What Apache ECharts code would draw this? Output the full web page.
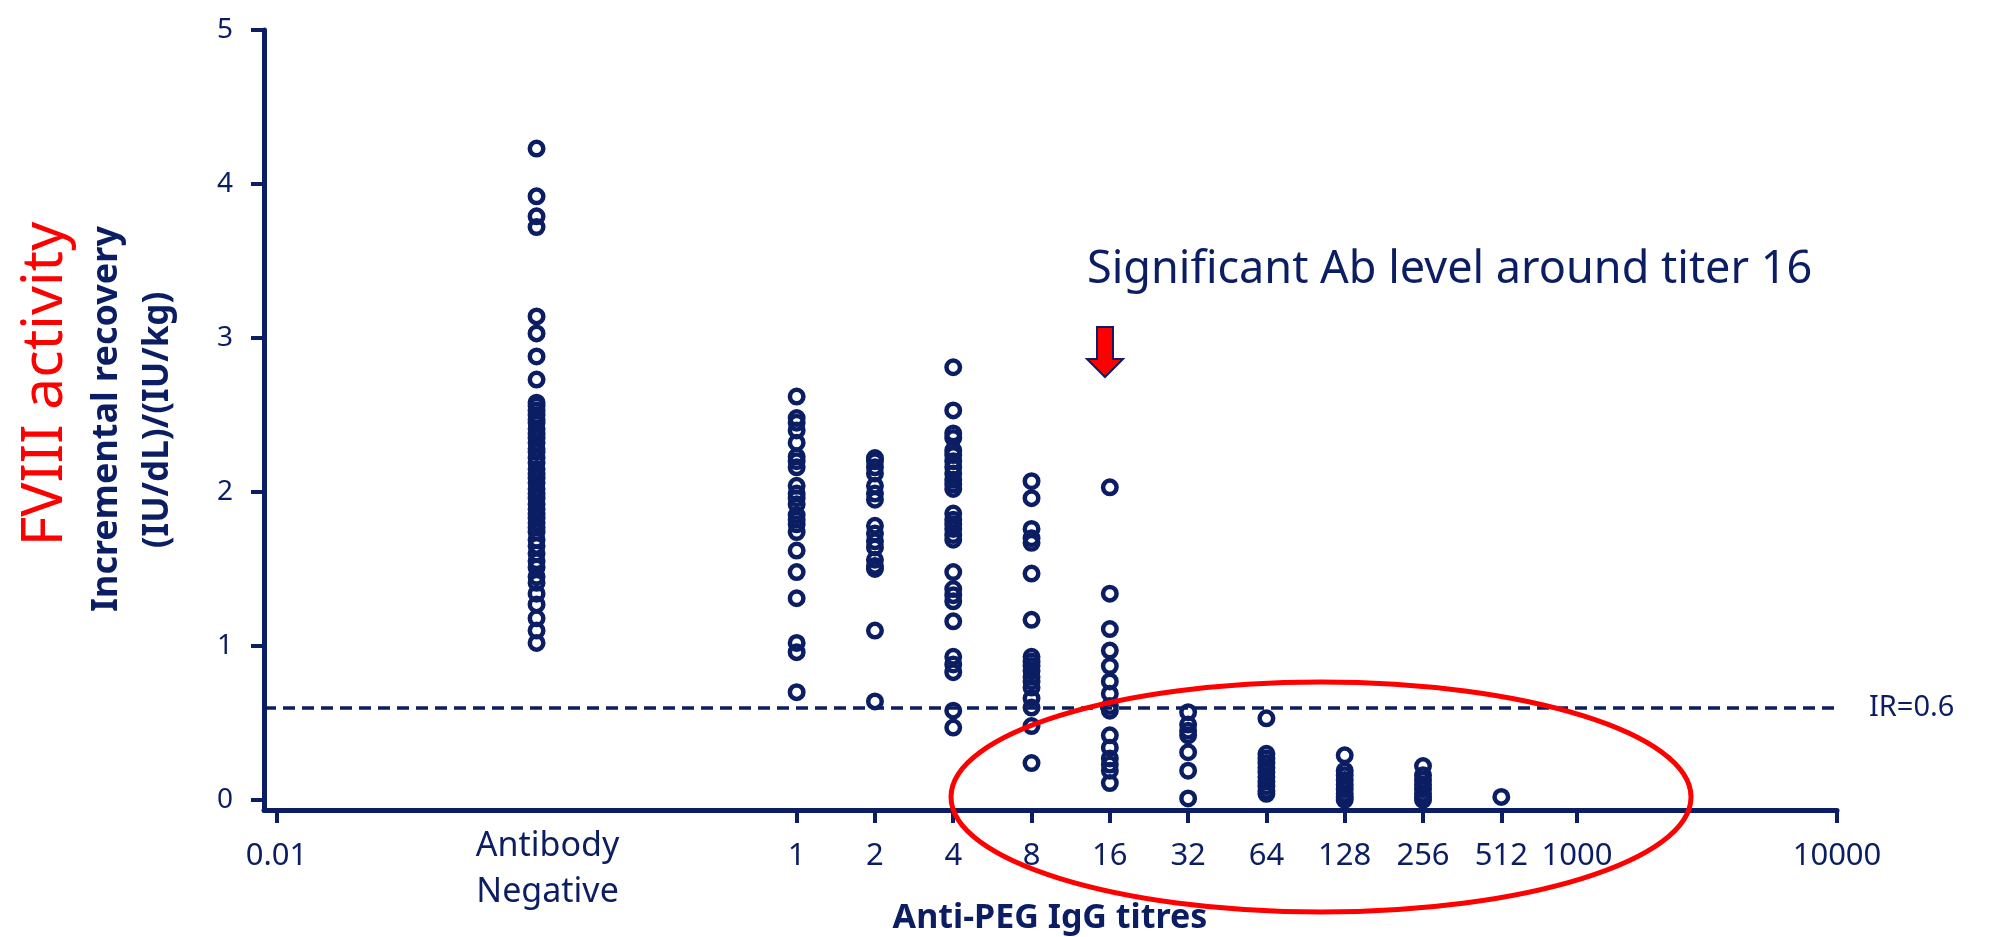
<!DOCTYPE html>
<html><head><meta charset="utf-8">
<script src="https://cdn.jsdelivr.net/npm/echarts@6/dist/echarts.min.js"></script>
<style>html,body{margin:0;padding:0;background:#fff}#c{width:1989px;height:937px}</style>
</head><body><div id="c"></div>
<script>
// ---------- data ----------
const titerCategories = ['Antibody Negative', '1', '2', '4', '8', '16', '32', '64', '128', '256', '512'];
const titerPositions  = [0.1, 1, 2, 4, 8, 16, 32, 64, 128, 256, 512];

const irAbNeg = [4.23, 3.92, 3.79, 3.72, 3.14, 3.03, 2.88, 2.73, 2.58, 2.56, 2.53, 2.50, 2.47, 2.45, 2.41,
                 2.38, 2.35, 2.32, 2.28, 2.26, 2.22, 2.19, 2.15, 2.12, 2.09, 2.06, 2.02, 1.99, 1.96, 1.92,
                 1.89, 1.86, 1.83, 1.80, 1.77, 1.74, 1.69, 1.65, 1.60, 1.55, 1.51, 1.45, 1.41, 1.34, 1.27,
                 1.18, 1.10, 1.02];
const ir1   = [2.62, 2.48, 2.45, 2.40, 2.32, 2.23, 2.20, 2.16, 2.04, 1.99, 1.96, 1.92, 1.85, 1.82, 1.79,
               1.74, 1.62, 1.48, 1.31, 1.02, 0.96, 0.70];
const ir2   = [2.22, 2.20, 2.16, 2.12, 2.04, 1.99, 1.95, 1.78, 1.73, 1.68, 1.64, 1.56, 1.52, 1.50, 1.10, 0.64];
const ir4   = [2.81, 2.53, 2.38, 2.35, 2.27, 2.24, 2.20, 2.16, 2.12, 2.08, 2.05, 2.02, 1.86, 1.82, 1.79,
               1.76, 1.72, 1.69, 1.48, 1.37, 1.33, 1.29, 1.16, 0.93, 0.88, 0.83, 0.58, 0.47];
const ir8   = [2.07, 1.96, 1.76, 1.70, 1.67, 1.47, 1.17, 0.93, 0.90, 0.87, 0.84, 0.80, 0.77, 0.73, 0.66,
               0.60, 0.48, 0.24];
const ir16  = [2.03, 1.34, 1.11, 0.97, 0.87, 0.77, 0.69, 0.61, 0.58, 0.42, 0.34, 0.27, 0.23, 0.19, 0.11];
const ir32  = [0.57, 0.49, 0.45, 0.42, 0.31, 0.19, 0.01];
const ir64  = [0.53, 0.30, 0.27, 0.24, 0.21, 0.18, 0.15, 0.12, 0.09, 0.06, 0.04];
const ir128 = [0.29, 0.19, 0.16, 0.13, 0.10, 0.07, 0.04, 0.02, 0.00];
const ir256 = [0.22, 0.16, 0.13, 0.10, 0.07, 0.04, 0.02, 0.00];
const ir512 = [0.02];
const irByTiter = [irAbNeg, ir1, ir2, ir4, ir8, ir16, ir32, ir64, ir128, ir256, ir512];

const xTickValues = [0.01, 0.1, 1, 2, 4, 8, 16, 32, 64, 128, 256, 512, 1000, 10000];
const xTickLabels = ['0.01', 'Antibody\nNegative', '1', '2', '4', '8', '16', '32', '64', '128', '256', '512', '1000', '10000'];
const yTickValues = [0, 1, 2, 3, 4, 5];
const irThreshold = 0.6;
const irThresholdLabel = 'IR=0.6';

// ---------- style ----------
const NAVY = '#0c1e63';
const RED = '#ff0000';
const FONT = '"Noto Sans", "Open Sans", sans-serif';
const xLogMin = -2.048, xLogMax = 4;

const points = [];
titerPositions.forEach((x, i) => irByTiter[i].forEach(v => points.push([x, v])));

const xTickLog = xTickValues.map(v => Math.log10(v));
const xMajorTickLog = xTickValues.filter(v => v !== 0.1).map(v => Math.log10(v));

const chart = echarts.init(document.getElementById('c'), null, {renderer: 'canvas'});
chart.setOption({
  animation: false,
  backgroundColor: '#fff',
  grid: {left: 264, right: 152, top: 30, bottom: 127, containLabel: false},
  xAxis: [
    { // data axis (log scale), hidden
      type: 'log', logBase: 10, position: 'top', show: false,
      min: Math.pow(10, xLogMin), max: Math.pow(10, xLogMax),
      splitLine: {show: false}
    },
    { // visible axis in decades of the same log scale
      type: 'value', position: 'bottom', min: xLogMin, max: xLogMax,
      splitLine: {show: false},
      axisLine: {show: true, onZero: false, lineStyle: {color: NAVY, width: 5}},
      axisTick: {show: true, customValues: xMajorTickLog, length: 13, lineStyle: {color: NAVY, width: 4}},
      axisLabel: {
        customValues: xTickLog, color: NAVY, fontSize: 31, fontFamily: FONT,
        lineHeight: 66, margin: 13,
        formatter: function (v) {
          const i = xTickLog.findIndex(t => Math.abs(t - v) < 1e-6);
          if (i < 0) return '';
          const s = xTickLabels[i];
          if (s.indexOf('\n') >= 0) return s.split('\n').map(p => '{neg|' + p + '}').join('\n');
          return s;
        },
        rich: {neg: {fontSize: 34, lineHeight: 46, color: NAVY, fontFamily: FONT, padding: [0, 0, 0, 22]}}
      }
    }
  ],
  yAxis: {
    type: 'value', min: -0.065, max: 5,
    splitLine: {show: false},
    axisLine: {show: true, onZero: false, lineStyle: {color: NAVY, width: 5}},
    axisTick: {show: true, customValues: yTickValues, length: 13, lineStyle: {color: NAVY, width: 4}},
    axisLabel: {customValues: yTickValues, color: NAVY, fontSize: 28, fontFamily: FONT, margin: 31,
                padding: [0, 0, 12, 0]}
  },
  series: [{
    type: 'scatter', xAxisIndex: 0, yAxisIndex: 0,
    symbol: 'circle', symbolSize: 13.5,
    itemStyle: {color: 'rgba(255,255,255,0)', borderColor: NAVY, borderWidth: 4.5, opacity: 1},
    data: points,
    markLine: {
      silent: true, symbol: ['none', 'none'],
      lineStyle: {color: NAVY, width: 3.5, type: [12, 7]},
      label: {show: true, position: 'end', formatter: irThresholdLabel, color: NAVY,
              fontSize: 29, fontFamily: FONT, distance: 32},
      data: [{yAxis: irThreshold}]
    },
    z: 5
  }],
  graphic: [
    {type: 'text', x: 46, y: 384, rotation: Math.PI / 2,
     style: {text: 'FVIII activity', fill: RED, fontSize: 57, fontFamily: FONT, align: 'center', verticalAlign: 'middle'}},
    {type: 'text', x: 107, y: 419, rotation: Math.PI / 2,
     style: {text: 'Incremental recovery', fill: NAVY, fontSize: 36, fontWeight: 'bold', fontFamily: FONT, align: 'center', verticalAlign: 'middle'}},
    {type: 'text', x: 158, y: 420, rotation: Math.PI / 2,
     style: {text: '(IU/dL)/(IU/kg)', fill: NAVY, fontSize: 35, fontWeight: 'bold', fontFamily: FONT, align: 'center', verticalAlign: 'middle'}},
    {type: 'text', x: 1050, y: 918,
     style: {text: 'Anti-PEG IgG titres', fill: NAVY, fontSize: 34, fontWeight: 'bold', fontFamily: FONT, align: 'center', verticalAlign: 'middle'}},
    {type: 'text', x: 1087, y: 270,
     style: {text: 'Significant Ab level around titer 16', fill: NAVY, fontSize: 45, fontFamily: FONT, align: 'left', verticalAlign: 'middle'}},
    {type: 'polygon', z: 100,
     shape: {points: [[1097, 327], [1113, 327], [1113, 359], [1123, 359], [1105, 377], [1087, 359], [1097, 359]]},
     style: {fill: RED, stroke: NAVY, lineWidth: 2}},
    {type: 'ellipse', z: 100,
     shape: {cx: 1321, cy: 797, rx: 370, ry: 115},
     style: {fill: 'none', stroke: RED, lineWidth: 5}}
  ]
});
</script></body></html>
